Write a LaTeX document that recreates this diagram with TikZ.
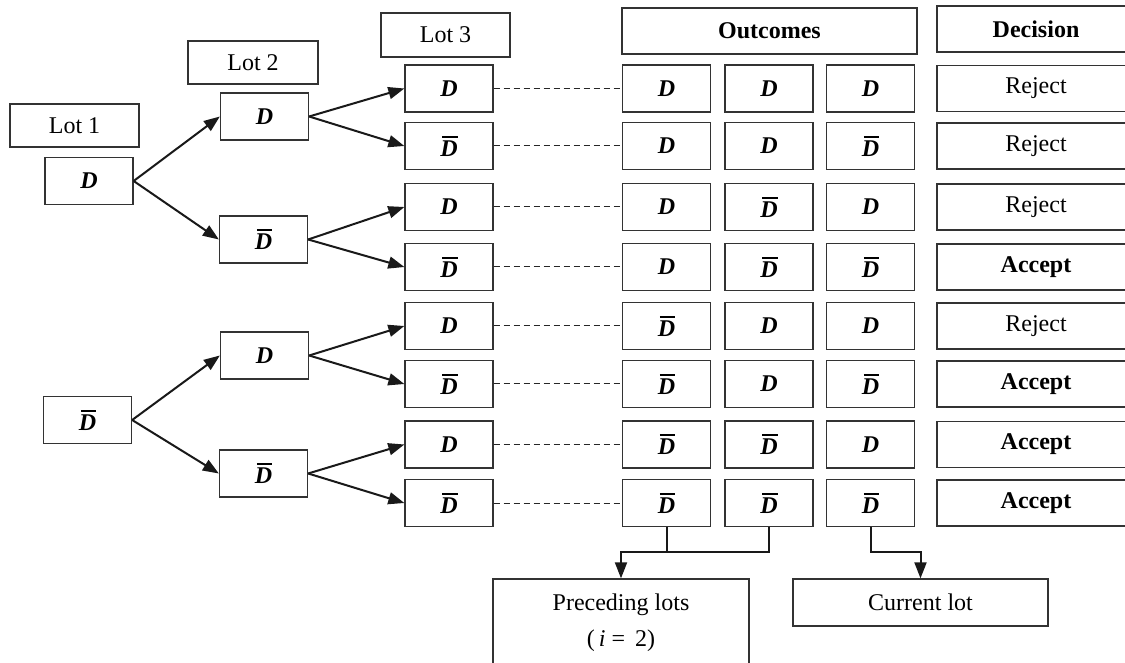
\documentclass[tikz,border=0pt]{standalone}
\usepackage{fontspec}
\setmainfont{Liberation Serif}
\usetikzlibrary{arrows.meta,calc}
\newcommand{\DD}{\textbf{\textit{D}}}
\newcommand{\DB}{\setbox0\hbox{\bfseries\itshape D}\vbox{\offinterlineskip\hbox to\wd0{\kern0.12\wd0\vrule height 1pt depth 0pt width 0.88\wd0\hss}\kern1.5pt\box0}}
\begin{document}
\begin{tikzpicture}[x=0.5pt,y=-0.5pt,
  basebox/.style={draw=black!80, line width=0.65pt, inner sep=0pt, align=center, font=\fontsize{12}{18}\selectfont},
  sz/.style 2 args={minimum width=#1*0.5pt, minimum height=#2*0.5pt},
  cellbox/.style={basebox, sz={88}{47}},
  labbox/.style={basebox, sz={129}{43}},
  decbox/.style={basebox, sz={198}{46}},
  arr/.style={line width=1pt, draw=black!90, -{Triangle[length=8pt,width=6pt]}},
  dsh/.style={line width=0.5pt, draw=black!85, dash pattern=on 3.3pt off 1.7pt},
  conn/.style={line width=1pt, draw=black!90}
]
\useasboundingbox (0,0) rectangle (1125,663);
\clip (0,0) rectangle (1125,663);
% headers
\node[labbox] (lot1) at (74.5,125.5) {Lot 1};
\node[labbox, sz={130}{43}] (lot2) at (253,62.5) {Lot 2};
\node[labbox, sz={129}{44}] (lot3) at (445.5,35) {Lot 3};
\node[basebox, sz={295}{46}] (outc) at (769.5,31) {\textbf{Outcomes}};
\node[decbox] (dech) at (1036,29) {\textbf{Decision}};
% lot 1
\node[cellbox] (l1a) at (89,181) {\DD};
\node[cellbox] (l1b) at (87.5,420) {\DB};
% lot 2
\node[cellbox] (l2a) at (264.5,116.5) {\DD};
\node[cellbox] (l2b) at (263.5,239.5) {\DB};
\node[cellbox] (l2c) at (264.5,355.5) {\DD};
\node[cellbox] (l2d) at (263.5,473.5) {\DB};
% rows
\foreach \i/\y/\t/\a/\b/\c/\d in {
  1/88.5/\DD/\DD/\DD/\DD/Reject,
  2/146/\DB/\DD/\DD/\DB/Reject,
  3/207/\DD/\DD/\DB/\DD/Reject,
  4/267/\DB/\DD/\DB/\DB/\textbf{Accept},
  5/326/\DD/\DB/\DD/\DD/Reject,
  6/384/\DB/\DB/\DD/\DB/\textbf{Accept},
  7/444.5/\DD/\DB/\DB/\DD/\textbf{Accept},
  8/503/\DB/\DB/\DB/\DB/\textbf{Accept}}{
  \node[cellbox] (l3-\i) at (449,\y) {\t};
  \node[cellbox] (o1-\i) at (666.5,\y) {\a};
  \node[cellbox] (o2-\i) at (769,\y) {\b};
  \node[cellbox] (o3-\i) at (870.5,\y) {\c};
  \node[decbox] (dc-\i) at (1036,\y) {\d};
  \draw[dsh] (l3-\i.east) -- (o1-\i.west);
}
% tree arrows
\draw[arr] (l1a.east) -- (l2a.west);
\draw[arr] (l1a.east) -- (l2b.west);
\draw[arr] (l1b.east) -- (l2c.west);
\draw[arr] (l1b.east) -- (l2d.west);
\draw[arr] (l2a.east) -- (l3-1.west);
\draw[arr] (l2a.east) -- (l3-2.west);
\draw[arr] (l2b.east) -- (l3-3.west);
\draw[arr] (l2b.east) -- (l3-4.west);
\draw[arr] (l2c.east) -- (l3-5.west);
\draw[arr] (l2c.east) -- (l3-6.west);
\draw[arr] (l2d.east) -- (l3-7.west);
\draw[arr] (l2d.east) -- (l3-8.west);
% bottom boxes
\node[basebox, sz={256}{88}] (pre) at (621,623) {Preceding lots\\(\,\textit{i}~=~\,2)};
\node[basebox, sz={255}{47}] (cur) at (920.5,602.5) {Current lot};
\coordinate (lvl) at (0,552);
\draw[conn] (o1-8.south) -- (o1-8.south |- lvl);
\draw[arr] (o2-8.south) |- (pre.north |- lvl) -- (pre.north);
\draw[arr] (o3-8.south) |- (cur.north |- lvl) -- (cur.north);
\end{tikzpicture}
\end{document}
